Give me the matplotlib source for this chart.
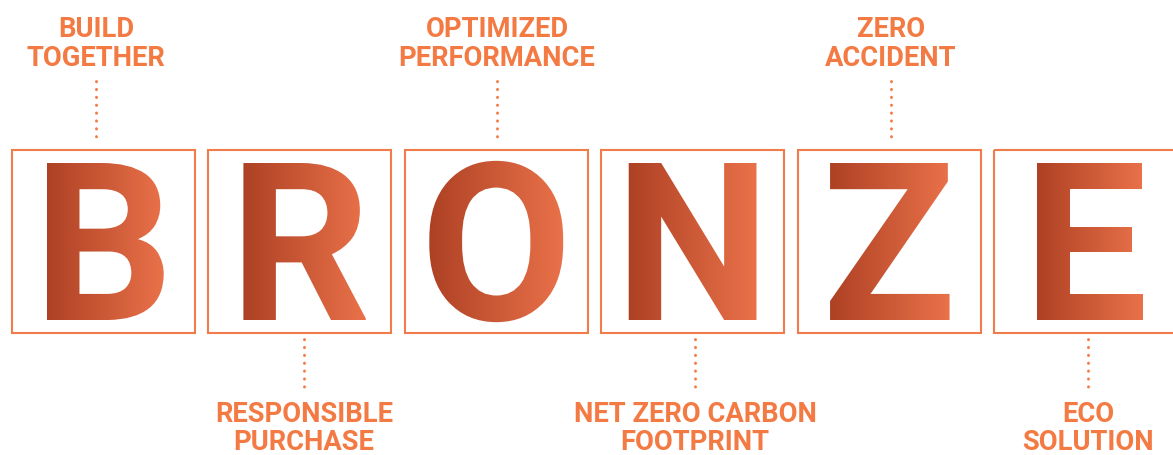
import numpy as np
import matplotlib.pyplot as plt
from matplotlib import font_manager as fm
from matplotlib.font_manager import FontProperties
from matplotlib.textpath import TextPath
from matplotlib.patches import Rectangle
from matplotlib.patheffects import AbstractPathEffect
from matplotlib.transforms import TransformedPath

letters = ["B", "R", "O", "N", "Z", "E"]
top_labels = [["BUILD", "TOGETHER"], ["OPTIMIZED", "PERFORMANCE"], ["ZERO", "ACCIDENT"]]
bottom_labels = [["RESPONSIBLE", "PURCHASE"], ["NET ZERO CARBON", "FOOTPRINT"], ["ECO", "SOLUTION"]]

orange = "#F47A44"
box_col = "#F07C4C"
dark = np.array([0xAD, 0x40, 0x23]) / 255
light = np.array([0xEA, 0x72, 0x4A]) / 255


def pick_font(names, weight):
    for n in names:
        prop = FontProperties(family=n, weight=weight)
        try:
            fm.findfont(prop, fallback_to_default=False)
            return prop
        except ValueError:
            continue
    return FontProperties(family="DejaVu Sans", weight="bold")


def cap_ratio(prop):
    bb = TextPath((0, 0), "H", size=100, prop=prop).get_extents()
    return bb.height / 100


class GradientFill(AbstractPathEffect):
    # fills the glyph outline with a left-to-right colour ramp
    def __init__(self, c0, c1):
        super().__init__()
        self.c0, self.c1 = c0, c1

    def draw_path(self, renderer, gc, tpath, affine, rgbFace=None):
        bb = tpath.get_extents(affine)
        x0, y0 = int(np.floor(bb.x0)) - 1, int(np.floor(bb.y0)) - 1
        w = int(np.ceil(bb.x1)) - x0 + 2
        h = int(np.ceil(bb.y1)) - y0 + 2
        t = np.linspace(0, 1, w)
        rgb = self.c0[None, :] * (1 - t[:, None]) + self.c1[None, :] * t[:, None]
        img = np.empty((h, w, 4), np.uint8)
        img[..., :3] = (rgb * 255).round().astype(np.uint8)[None]
        img[..., 3] = 255
        gc0 = renderer.new_gc()
        gc0.copy_properties(gc)
        gc0.set_clip_path(TransformedPath(tpath, affine))
        renderer.draw_image(gc0, x0, y0, img)
        gc0.restore()


W, H = 1173, 455
fig = plt.figure(figsize=(W / 100, H / 100), dpi=100)
ax = fig.add_axes([0, 0, 1, 1])
ax.axis("off")
ax.set_xlim(0, W)
ax.set_ylim(H, 0)

letter_prop = pick_font(["Roboto", "Lato", "Open Sans", "Noto Sans"], "bold")
label_prop = pick_font(["Roboto", "Noto Sans", "Open Sans", "Lato"], "bold")

box_x0, box_step, box_w = 12, 196.4, 183
box_top, box_h = 149.5, 183
letter_base = 320
letter_pt = 157 / cap_ratio(letter_prop) * 0.72
label_pt = 19.5 / cap_ratio(label_prop) * 0.72

for i, ch in enumerate(letters):
    x0 = box_x0 + i * box_step
    ax.add_patch(Rectangle((x0, box_top), box_w, box_h, fill=False,
                           ec=box_col, lw=1.5))
    t = ax.text(x0 + box_w / 2, letter_base, ch, ha="center", va="baseline",
                fontproperties=letter_prop, fontsize=letter_pt, color=light)
    t.set_path_effects([GradientFill(dark, light)])

top_x = [96, 497, 891]
bottom_x = [304, 695, 1088]
dots = dict(color=orange, lw=2.1, linestyle=(0, (0.1, 2.6)), dash_capstyle="round")

for lines, cx in zip(top_labels, top_x):
    for ln, yb in zip(lines, [37, 66.5]):
        ax.text(cx, yb, ln, ha="center", va="baseline", fontproperties=label_prop,
                fontsize=label_pt, color=orange)
    ax.plot([cx, cx], [81, 143], **dots)

for lines, cx in zip(bottom_labels, bottom_x):
    for ln, yb in zip(lines, [421.5, 450]):
        ax.text(cx, yb, ln, ha="center", va="baseline", fontproperties=label_prop,
                fontsize=label_pt, color=orange)
    ax.plot([cx, cx], [339, 392], **dots)

fig.savefig("out.png", dpi=100, facecolor="white")
